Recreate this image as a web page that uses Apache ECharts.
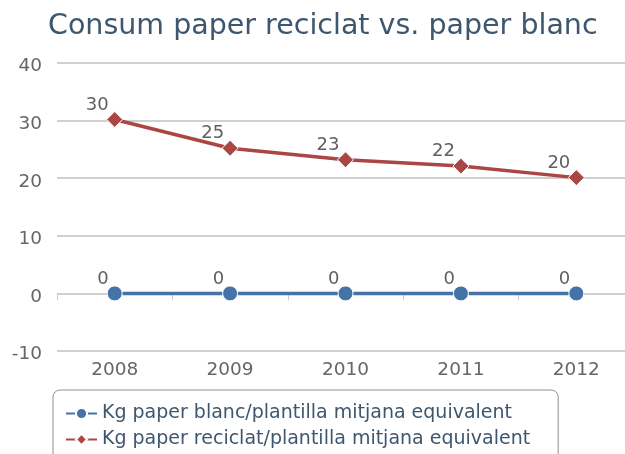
<!DOCTYPE html>
<html><head><meta charset="utf-8">
<script src="https://cdn.jsdelivr.net/npm/echarts@6/dist/echarts.min.js"></script>
<style>html,body{margin:0;padding:0;background:#fff}#c{width:625px;height:454px}</style>
</head><body><div id="c"></div>
<script>
var categories = ['2008', '2009', '2010', '2011', '2012'];
var blancValues = [0, 0, 0, 0, 0];
var reciclatValues = [30.2, 25.2, 23.2, 22.1, 20.1];
var yTicks = [-10, 0, 10, 20, 30, 40];
var seriesNames = ['Kg paper blanc/plantilla mitjana equivalent', 'Kg paper reciclat/plantilla mitjana equivalent'];

var FONT = 'DejaVu Sans';
var chart = echarts.init(document.getElementById('c'));
function lbl() {
  return {
    show: true, position: 'top', align: 'right', offset: [-6, 6], distance: 3,
    color: '#606060', fontSize: 18, fontFamily: FONT,
    formatter: function (p) { return Math.round(p.value); }
  };
}
chart.setOption({
  animation: false,
  title: {
    text: 'Consum paper reciclat vs. paper blanc', left: 43, top: 7,
    textStyle: { color: '#3E576F', fontSize: 28.5, fontWeight: 'normal', fontFamily: FONT }
  },
  grid: { left: 57, width: 577, top: 63, height: 288, containLabel: false, outerBoundsMode: 'none' },
  legend: {
    orient: 'vertical', left: 53, top: 390, height: 200,
    padding: [14, 28, 20, 12],
    borderColor: '#909090', borderWidth: 1, borderRadius: 7,
    itemWidth: 31, itemHeight: 14, itemGap: 7,
    textStyle: { color: '#3E576F', fontSize: 19, fontFamily: FONT },
    data: seriesNames
  },
  xAxis: {
    type: 'category', data: categories, boundaryGap: true,
    axisLine: { lineStyle: { color: '#C0D0E0', width: 1 } },
    axisTick: { show: true, length: 7, lineStyle: { color: '#C0D0E0' } },
    axisLabel: { color: '#666666', fontSize: 18.5, fontFamily: FONT, margin: 10 }
  },
  yAxis: {
    type: 'value', min: yTicks[0], max: yTicks[yTicks.length - 1], interval: 10,
    axisLine: { show: false }, axisTick: { show: false },
    splitLine: { lineStyle: { color: '#C0C0C0', width: 1.5 } },
    axisLabel: {
      color: '#666666', fontSize: 18.5, fontFamily: FONT, margin: 15,
      formatter: '{a|{value}}',
      rich: { a: { color: '#666666', fontSize: 18.5, fontFamily: FONT, padding: [7, 0, 0, 0] } }
    }
  },
  series: [
    {
      name: seriesNames[0], type: 'line', data: blancValues,
      symbol: 'circle', symbolSize: 15,
      lineStyle: { color: '#4572A7', width: 3.5 },
      itemStyle: { color: '#4572A7', borderColor: '#ffffff', borderWidth: 1 },
      label: lbl()
    },
    {
      name: seriesNames[1], type: 'line', data: reciclatValues,
      symbol: 'diamond', symbolSize: 16,
      lineStyle: { color: '#AA4643', width: 3.5 },
      itemStyle: { color: '#AA4643', borderColor: '#ffffff', borderWidth: 1 },
      label: lbl()
    }
  ]
});
</script></body></html>
